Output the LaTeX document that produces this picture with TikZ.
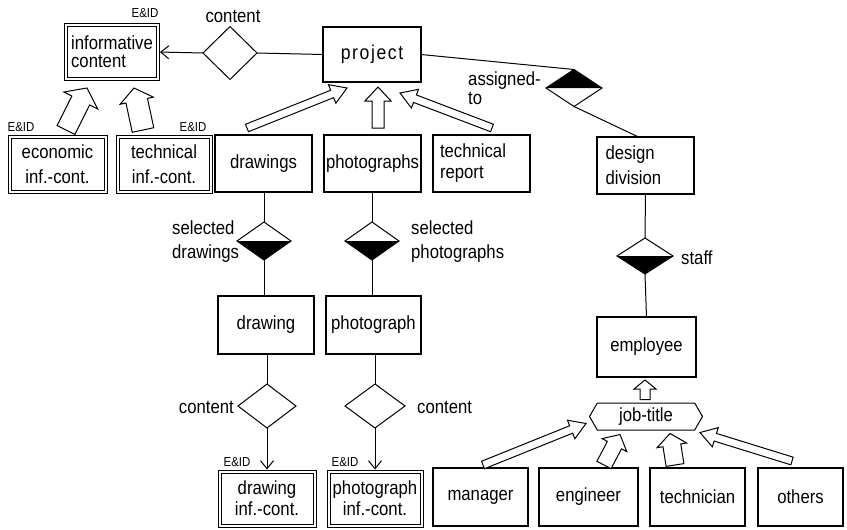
\documentclass[tikz,border=0pt]{standalone}
\usepackage{fontspec}
\setmainfont[FakeStretch=0.88]{Liberation Sans}
\usetikzlibrary{calc,shapes.geometric,shapes.symbols,arrows.meta}

\newcommand{\erfont}{\fontsize{19}{21}\selectfont}
\newcommand{\eidfont}{\fontsize{13}{14}\selectfont}

% hollow block arrow: base point, tip point, shaft half-width, head half-width, head length
\newcommand{\blockarrow}[5]{%
  \draw[blockarr] ($(#1)!#3!90:(#2)$)
    -- ($(#2)!#5!(#1)!#3!90:(#2)$)
    -- ($(#2)!#5!(#1)!#4!90:(#2)$)
    -- (#2)
    -- ($(#2)!#5!(#1)!#4!-90:(#2)$)
    -- ($(#2)!#5!(#1)!#3!-90:(#2)$)
    -- ($(#1)!#3!-90:(#2)$) -- cycle;}

\begin{document}
\begin{tikzpicture}[x=1pt,y=-1pt,
  ent/.style={draw, line width=1.1pt, inner sep=0pt, outer sep=0pt, font=\erfont, align=center},
  went/.style={ent, line width=1pt, double, double distance=2pt},
  rel/.style={diamond, draw, line width=1pt, inner sep=0pt, outer sep=0pt},
  link/.style={line width=1pt},
  blockarr/.style={draw, line width=1pt, fill=white, line join=miter},
  lab/.style={font=\erfont, inner sep=0pt, align=left},
  eid/.style={font=\eidfont, inner sep=0pt},
  opentip/.style={-{Straight Barb[length=8pt,width=13pt]}, shorten >=2pt},
]
\fill[white] (0,0) rectangle (847,530);
\useasboundingbox (0,0) rectangle (847,530);

% ---- top row: informative content, content, project, assigned-to
\node[went, minimum width=92pt, minimum height=54pt, align=left,
      font=\fontsize{19}{18}\selectfont] (info) at (112,52) {informative\\content};
\node[rel, minimum width=54pt, minimum height=53pt] (cont) at (230,53) {};
\node[ent, minimum width=98pt, minimum height=55pt,
      font=\fontsize{20}{21}\selectfont\addfontfeature{LetterSpace=8}] (project) at (372,54.5) {project};
\node[rel, minimum width=56pt, minimum height=37pt] (asg) at (574,88) {};

% ---- second row of entities
\node[went, minimum width=96pt, minimum height=55pt, font=\fontsize{19}{25}\selectfont] (eco) at (57.5,164) {economic\\inf.-cont.};
\node[went, minimum width=93pt, minimum height=55pt, font=\fontsize{19}{25}\selectfont] (tinf) at (164,164) {technical\\inf.-cont.};
\node[ent, minimum width=97pt, minimum height=57pt] (drws) at (263.5,163.5) {drawings};
\node[ent, minimum width=97pt, minimum height=57pt] (phos) at (372.5,163.5) {photographs};
\node[ent, minimum width=97pt, minimum height=57pt, text width=83pt, align=left] (trep) at (481.5,163.5) {technical\\report};
\node[ent, minimum width=97pt, minimum height=57pt, text width=80pt, align=left,
      font=\fontsize{19}{25}\selectfont] (ddiv) at (645.5,165.5) {design\\division};

% ---- selection relationships and their entities
\node[rel, minimum width=54pt, minimum height=38pt] (seld) at (264,241) {};
\node[rel, minimum width=54pt, minimum height=38pt] (selp) at (372,241) {};
\node[rel, minimum width=56pt, minimum height=36pt] (staff) at (645,256) {};
\node[ent, minimum width=96pt, minimum height=58pt] (drw) at (266,325) {drawing};
\node[ent, minimum width=95pt, minimum height=58pt] (pho) at (373.5,325) {photograph};
\node[ent, minimum width=99pt, minimum height=60pt] (emp) at (646.5,347) {employee};

% ---- content relationships and information contents
\node[rel, minimum width=58pt, minimum height=44pt] (dcon) at (267,406) {};
\node[rel, minimum width=60pt, minimum height=44pt] (pcon) at (375,406) {};
\node[went, minimum width=95pt, minimum height=54pt] (dinf) at (267,498.5) {drawing\\inf.-cont.};
\node[went, minimum width=93pt, minimum height=54pt] (pinf) at (375,498.5) {photograph\\inf.-cont.};

% ---- job-title discriminator and its subtypes
\node[signal, draw, signal to=west and east, signal pointer angle=120, line width=1pt,
      minimum width=113pt, minimum height=27pt, inner sep=0pt, font=\erfont] (job) at (646,416.5) {job-title};
\node[ent, minimum width=95pt, minimum height=58pt] (mgr) at (480.5,497) {manager};
\node[ent, minimum width=99pt, minimum height=58pt] (eng) at (588.5,497) {engineer};
\node[ent, minimum width=95pt, minimum height=58pt] (tech) at (697.5,497) {technician};
\node[ent, minimum width=85pt, minimum height=58pt] (oth) at (800.5,497) {others};

% ---- filled halves of the cardinality diamonds
\fill (asg.west) -- (asg.north) -- (asg.east) -- cycle;
\fill (staff.west) -- (staff.south) -- (staff.east) -- cycle;
\fill (seld.west) -- (seld.south) -- (seld.east) -- cycle;
\fill (selp.west) -- (selp.south) -- (selp.east) -- cycle;

% ---- plain connectors
\draw[link] (cont.east) -- (project.west);
\draw[link, opentip] (cont.west) -- (info.east);
\draw[link] (project.east) -- (asg.north);
\draw[link] (asg.south) -- ([xshift=-7pt]ddiv.north);
\draw[link] (ddiv.south) -- (staff.north);
\draw[link] (staff.south) -- (emp.north);
\draw[link] (seld.north |- drws.south) -- (seld.north);
\draw[link] (seld.south) -- (seld.south |- drw.north);
\draw[link] (selp.north |- phos.south) -- (selp.north);
\draw[link] (selp.south) -- (selp.south |- pho.north);
\draw[link] (dcon.north |- drw.south) -- (dcon.north);
\draw[link, opentip] (dcon.south) -- (dcon.south |- dinf.north);
\draw[link] (pcon.north |- pho.south) -- (pcon.north);
\draw[link, opentip] (pcon.south) -- (pcon.south |- pinf.north);

% ---- end points of the hollow generalisation arrows
\coordinate (ecoB)  at ([shift={(8.5,-6.5)}]eco.north);
\coordinate (ecoT)  at ([shift={(-25,9)}]info.south);
\coordinate (tinfB) at ([shift={(-21,-6.5)}]tinf.north);
\coordinate (tinfT) at ([shift={(22,9)}]info.south);
\coordinate (drwsB) at ([shift={(-16.5,-7)}]drws.north);
\coordinate (drwsT) at ([shift={(-25,6)}]project.south);
\coordinate (phosB) at ([shift={(5.5,-7)}]phos.north);
\coordinate (phosT) at ([shift={(6,5)}]project.south);
\coordinate (trepB) at ([shift={(10.5,-7)}]trep.north);
\coordinate (trepT) at ([shift={(28,11)}]project.south);
\coordinate (jobB)  at ([shift={(-1,-3)}]job.north);
\coordinate (jobT)  at ([shift={(-1.5,3)}]emp.south);
\coordinate (mgrB)  at ([shift={(2.5,-3)}]mgr.north);
\coordinate (mgrT)  at ([shift={(-60,-7)}]job.south);
\coordinate (engB)  at ([shift={(15.5,-3)}]eng.north);
\coordinate (engT)  at ([shift={(-26,4)}]job.south);
\coordinate (techB) at ([shift={(-22.5,-3)}]tech.north);
\coordinate (techT) at ([shift={(24,3)}]job.south);
\coordinate (othB)  at ([shift={(-8.5,-7)}]oth.north);
\coordinate (othT)  at ([shift={(54,2)}]job.south);

\blockarrow{ecoB}{ecoT}{10pt}{19pt}{14pt}
\blockarrow{tinfB}{tinfT}{11pt}{17pt}{13pt}
\blockarrow{drwsB}{drwsT}{4pt}{10pt}{16pt}
\blockarrow{phosB}{phosT}{6pt}{13pt}{14pt}
\blockarrow{trepB}{trepT}{4pt}{10pt}{16pt}
\blockarrow{jobB}{jobT}{5pt}{11pt}{9pt}
\blockarrow{mgrB}{mgrT}{4pt}{10pt}{16pt}
\blockarrow{engB}{engT}{8pt}{14pt}{12pt}
\blockarrow{techB}{techT}{9pt}{15pt}{12pt}
\blockarrow{othB}{othT}{4pt}{10pt}{16pt}

% ---- labels
\node[lab] (lcont) at (233,16) {content};
\node[lab, anchor=north west, font=\fontsize{19}{19}\selectfont] (lasg) at (468,72) {assigned-\\to};
\node[lab, anchor=west] (lstaff) at (681,258) {staff};
\node[lab, anchor=west, font=\fontsize{19}{24}\selectfont] (lseld) at (172,242) {selected\\drawings};
\node[lab, anchor=west, font=\fontsize{19}{24}\selectfont] (lselp) at (411,242) {selected\\photographs};
\node[lab, anchor=east] (ldcon) at (234,407) {content};
\node[lab, anchor=west] (lpcon) at (417,407) {content};
\node[eid] (eid1) at (145,13) {E\&ID};
\node[eid] (eid2) at (21,127) {E\&ID};
\node[eid] (eid3) at (193,127) {E\&ID};
\node[eid] (eid4) at (237,462) {E\&ID};
\node[eid] (eid5) at (345,462) {E\&ID};
\end{tikzpicture}
\end{document}
